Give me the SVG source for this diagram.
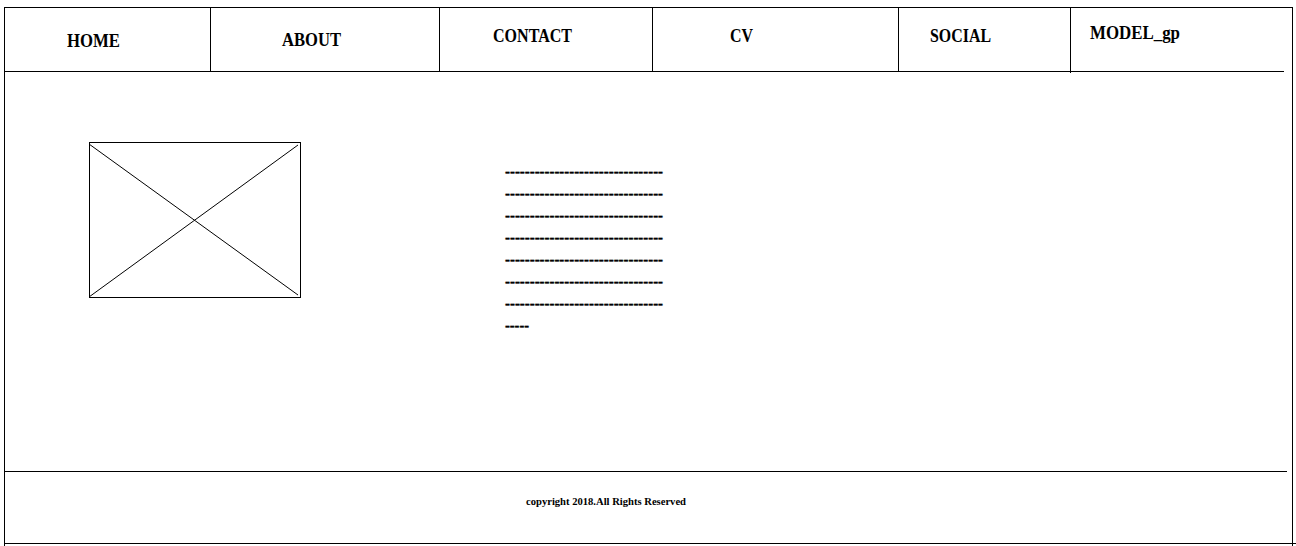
<svg xmlns="http://www.w3.org/2000/svg" width="1296" height="546" viewBox="0 0 1296 546">
<style>
.ln{stroke:#000;stroke-width:1;fill:none}
.nav{font-family:"Liberation Serif","Times New Roman",serif;font-weight:bold;font-size:19px;fill:#000}
.dash{font-family:"Liberation Serif","Times New Roman",serif;font-weight:bold;font-size:16px;fill:#000;stroke:#000;stroke-width:0.4}
.foot{font-family:"Liberation Serif","Times New Roman",serif;font-weight:bold;font-size:10px;fill:#000}
</style>
<rect width="1296" height="546" fill="#fff"/>
<g id="frame">
<line class="ln" x1="4" y1="7.5" x2="1292" y2="7.5"/>
<line class="ln" x1="4.5" y1="7" x2="4.5" y2="546"/>
<line class="ln" x1="1292.5" y1="7" x2="1292.5" y2="546"/>
<line class="ln" x1="4" y1="71.5" x2="1284" y2="71.5"/>
<line class="ln" x1="4" y1="471.5" x2="1287" y2="471.5"/>
<line class="ln" x1="4" y1="543.5" x2="1296" y2="543.5"/>
</g>
<g id="nav-dividers">
<line class="ln" x1="210.5" y1="8" x2="210.5" y2="71"/>
<line class="ln" x1="439.5" y1="8" x2="439.5" y2="71"/>
<line class="ln" x1="652.5" y1="8" x2="652.5" y2="71"/>
<line class="ln" x1="898.5" y1="8" x2="898.5" y2="71"/>
<line class="ln" x1="1070.5" y1="8" x2="1070.5" y2="73"/>
</g>
<g id="home"><text class="nav" x="67" y="47" textLength="53" lengthAdjust="spacingAndGlyphs">HOME</text></g>
<g id="about"><text class="nav" x="282" y="45.5" textLength="59" lengthAdjust="spacingAndGlyphs">ABOUT</text></g>
<g id="contact"><text class="nav" x="493" y="42" textLength="79" lengthAdjust="spacingAndGlyphs">CONTACT</text></g>
<g id="cv"><text class="nav" x="730" y="42" textLength="23" lengthAdjust="spacingAndGlyphs">CV</text></g>
<g id="social"><text class="nav" x="930" y="42" textLength="61" lengthAdjust="spacingAndGlyphs">SOCIAL</text></g>
<g id="model"><text class="nav" x="1090" y="38.5" textLength="90" lengthAdjust="spacingAndGlyphs">MODEL_gp</text></g>
<g id="image-placeholder">
<rect class="ln" x="89.5" y="142.5" width="211" height="155"/>
<line class="ln" x1="89" y1="144" x2="298" y2="295"/>
<line class="ln" x1="89" y1="297" x2="298" y2="145"/>
</g>
<g id="text-block">
<text class="dash" x="505" y="177" textLength="158" lengthAdjust="spacingAndGlyphs">--------------------------------</text>
<text class="dash" x="505" y="199" textLength="158" lengthAdjust="spacingAndGlyphs">--------------------------------</text>
<text class="dash" x="505" y="221" textLength="158" lengthAdjust="spacingAndGlyphs">--------------------------------</text>
<text class="dash" x="505" y="243" textLength="158" lengthAdjust="spacingAndGlyphs">--------------------------------</text>
<text class="dash" x="505" y="265" textLength="158" lengthAdjust="spacingAndGlyphs">--------------------------------</text>
<text class="dash" x="505" y="287" textLength="158" lengthAdjust="spacingAndGlyphs">--------------------------------</text>
<text class="dash" x="505" y="309" textLength="158" lengthAdjust="spacingAndGlyphs">--------------------------------</text>
<text class="dash" x="505" y="331" textLength="24" lengthAdjust="spacingAndGlyphs">-----</text>
</g>
<g id="footer"><text class="foot" x="526" y="505" textLength="160" lengthAdjust="spacingAndGlyphs">copyright 2018.All Rights Reserved</text></g>
</svg>
